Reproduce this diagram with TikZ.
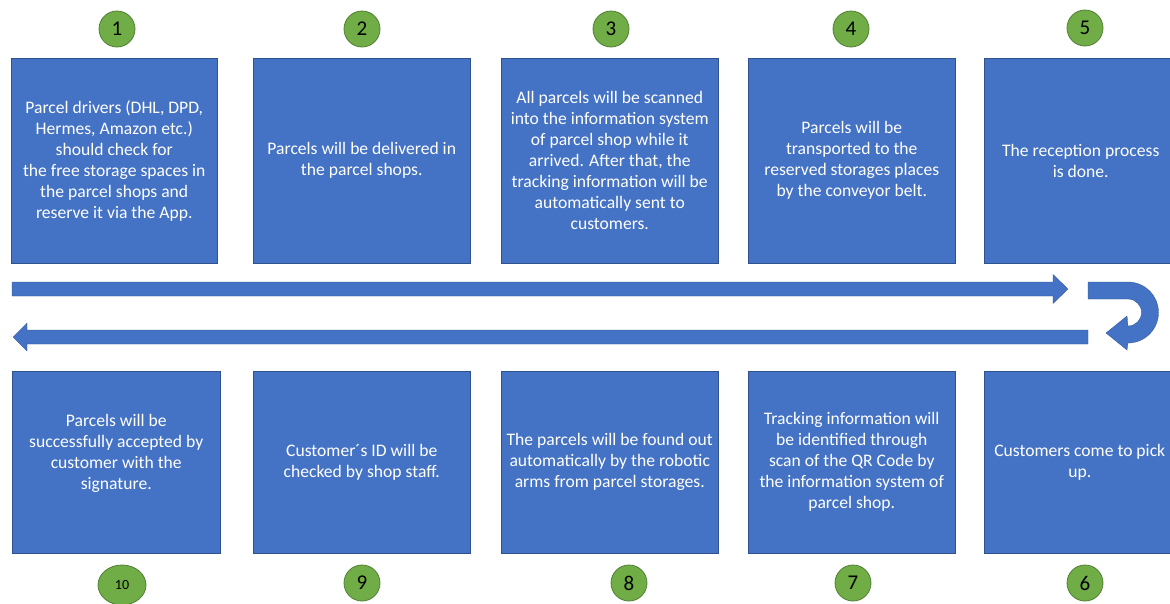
\documentclass[tikz,border=0pt]{standalone}
\usepackage{fontspec}
\setmainfont{Carlito}
\usetikzlibrary{calc,shapes.geometric}
\definecolor{boxblue}{HTML}{4472C4}
\definecolor{boxedge}{HTML}{2F528F}
\definecolor{stepgreen}{HTML}{70AD47}
\definecolor{greenedge}{HTML}{507E32}
\tikzset{
  stepcard/.style={draw=boxedge, line width=0.5pt, fill=boxblue, rectangle,
    inner sep=0pt, anchor=north west},
  cardtext/.style={text=white, align=center, inner sep=0pt,
    font=\fontsize{17.6}{21}\selectfont},
  badge/.style={circle, draw=greenedge, line width=0.8pt, fill=stepgreen,
    minimum size=36pt, inner sep=0pt, text=black,
    font=\fontsize{21}{21}\selectfont},
  flowarrow/.style={fill=boxblue, draw=boxedge, line width=0.3pt}
}
\begin{document}
\begin{tikzpicture}[x=1pt,y=-1pt]
\useasboundingbox (0,0) rectangle (1170,603);

% upper row of cards (steps 1-5)
\node[stepcard, minimum width=206pt, minimum height=205.5pt] (b1) at (11,57.5) {};
\node[stepcard, minimum width=217pt, minimum height=205.5pt] (b2) at (253,57.5) {};
\node[stepcard, minimum width=217pt, minimum height=205.5pt] (b3) at (501,57.5) {};
\node[stepcard, minimum width=207pt, minimum height=205.5pt] (b4) at (748,57.5) {};
\node[stepcard, minimum width=187pt, minimum height=205.5pt] (b5) at (984,57.5) {};

% lower row of cards (steps 10-6)
\node[stepcard, minimum width=208pt, minimum height=182pt] (b10) at (12,371) {};
\node[stepcard, minimum width=217pt, minimum height=182pt] (b9) at (253,371) {};
\node[stepcard, minimum width=217pt, minimum height=182pt] (b8) at (501,371) {};
\node[stepcard, minimum width=207pt, minimum height=182pt] (b7) at (748,371) {};
\node[stepcard, minimum width=187pt, minimum height=182pt] (b6) at (984,371) {};

% card texts
\node[cardtext] (t1) at (b1.center) {Parcel drivers (DHL, DPD,\\Hermes, Amazon etc.)\\should check for\\the free storage spaces in\\the parcel shops and\\reserve it via the App.};
\node[cardtext] (t2) at (b2.center) {Parcels will be delivered in\\the parcel shops.};
\node[cardtext] (t3) at (b3.center) {All parcels will be scanned\\into the information system\\of parcel shop while it\\arrived. After that, the\\tracking information will be\\automatically sent to\\customers.};
\node[cardtext] (t4) at (b4.center) {Parcels will be\\transported to the\\reserved storages places\\by the conveyor belt.};
\node[cardtext] (t5) at ($(b5.center)+(3,0)$) {The reception process\\is done.};
\node[cardtext] (t10) at ($(b10.center)+(0,-9)$) {Parcels will be\\successfully accepted by\\customer with the\\signature.};
\node[cardtext] (t9) at (b9.center) {Customer´s ID will be\\checked by shop staff.};
\node[cardtext] (t8) at (b8.center) {The parcels will be found out\\automatically by the robotic\\arms from parcel storages.};
\node[cardtext] (t7) at (b7.center) {Tracking information will\\be identified through\\scan of the QR Code by\\the information system of\\parcel shop.};
\node[cardtext] (t6) at ($(b6.center)+(2,0)$) {Customers come to pick\\up.};

% step number badges
\node[badge] (n1) at (117,29) {1};
\node[badge] (n2) at (362,29) {2};
\node[badge] (n3) at (611,29) {3};
\node[badge] (n4) at (851,29) {4};
\node[badge] (n5) at (1085,28) {5};
\node[badge] (n9) at (362,583) {9};
\node[badge] (n8) at (629,583) {8};
\node[badge] (n7) at (853,583) {7};
\node[badge] (n6) at (1085,583) {6};
\node[badge, ellipse, minimum width=48pt, minimum height=40pt,
      font=\fontsize{14}{14}\selectfont] (n10) at (122,585) {10};

% forward block arrow
\draw[flowarrow] (12,282) -- (1053,282) -- (1053,274.5) -- (1068,289)
  -- (1053,303.5) -- (1053,296) -- (12,296) -- cycle;

% return block arrow
\draw[flowarrow] (1088,330) -- (27,330) -- (27,323) -- (13,337)
  -- (27,351) -- (27,344) -- (1088,344) -- cycle;

% U-turn arrow
\draw[flowarrow] (1088,282) -- (1128,282)
  arc[start angle=90, end angle=-90, radius=30.5pt]
  -- (1127,350) -- (1106,333) -- (1127,316) -- (1128,326)
  arc[start angle=-90, end angle=90, radius=13.5pt]
  -- (1088,299) -- cycle;
\end{tikzpicture}
\end{document}
